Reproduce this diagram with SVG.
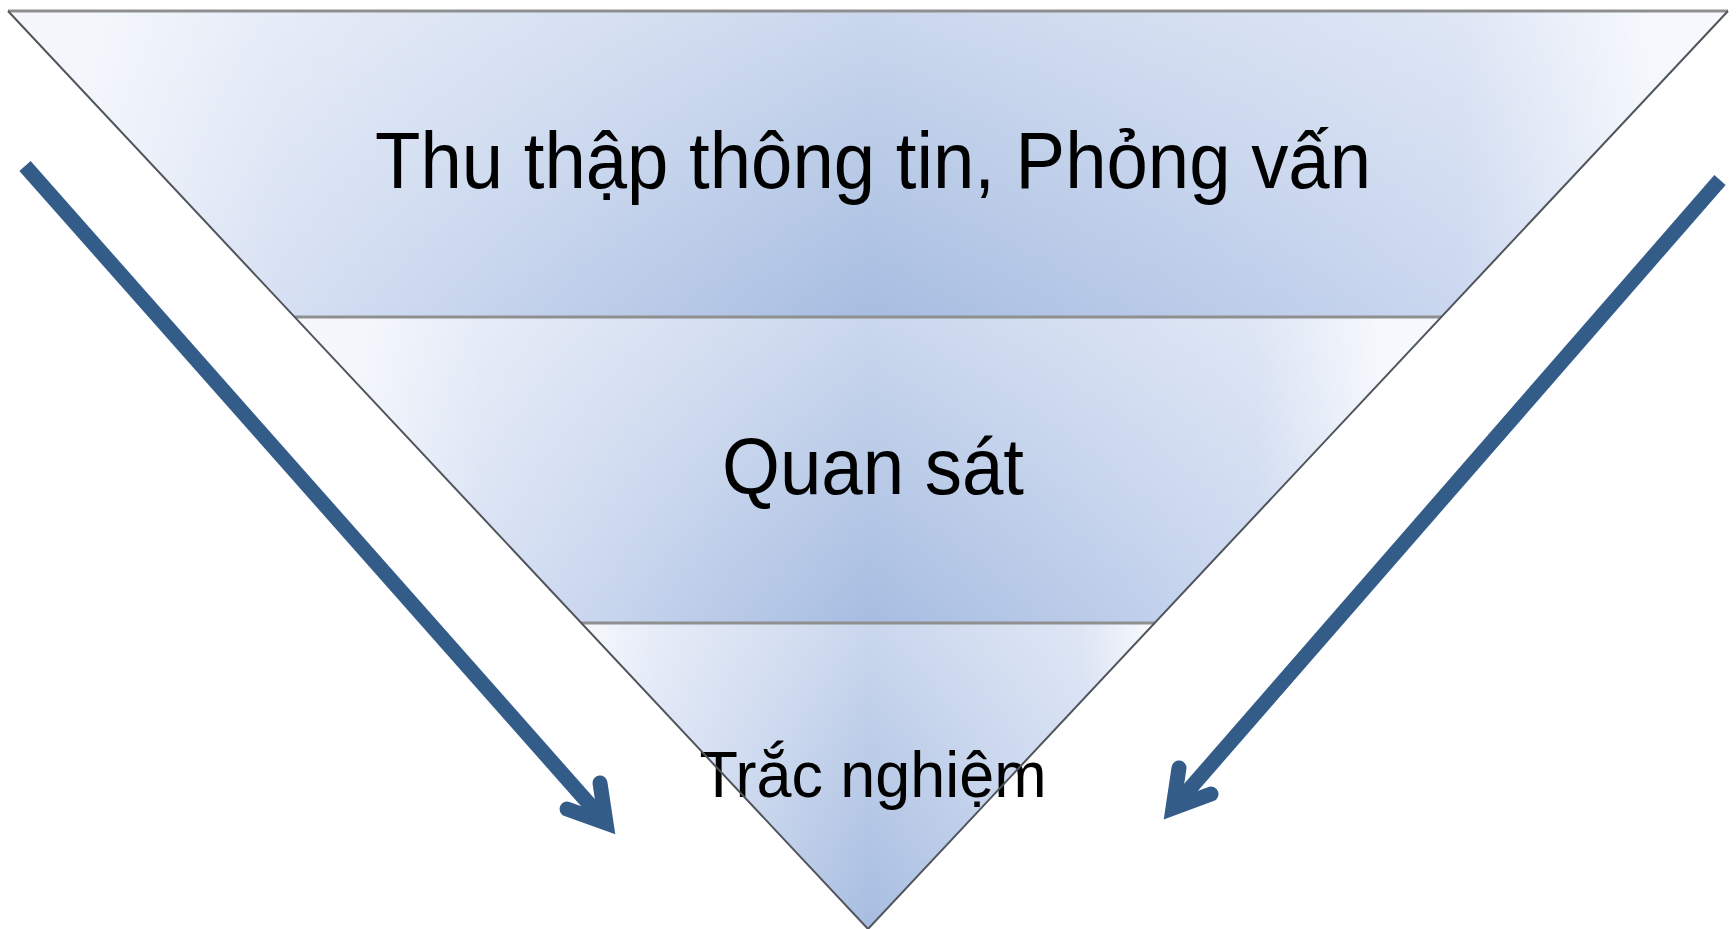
<svg xmlns="http://www.w3.org/2000/svg" xmlns:xlink="http://www.w3.org/1999/xlink" width="1736" height="929" viewBox="0 0 1736 929">
<defs>
<linearGradient id="hg">
<stop offset="0" stop-color="#eef2fa"/>
<stop offset="0.12" stop-color="#d6e0f3"/>
<stop offset="0.5" stop-color="#a7bde1"/>
<stop offset="0.88" stop-color="#cad7ef"/>
<stop offset="1" stop-color="#f0f4fb"/>
</linearGradient>
<linearGradient id="g1" xlink:href="#hg" href="#hg" gradientUnits="userSpaceOnUse" x1="90" y1="0" x2="1650" y2="0"/>
<linearGradient id="g2" xlink:href="#hg" href="#hg" gradientUnits="userSpaceOnUse" x1="360" y1="0" x2="1380" y2="0"/>
<linearGradient id="g3" xlink:href="#hg" href="#hg" gradientUnits="userSpaceOnUse" x1="590" y1="0" x2="1150" y2="0"/>
<linearGradient id="vg" x1="0" y1="0" x2="0" y2="1">
<stop offset="0" stop-color="#ffffff" stop-opacity="0.4"/>
<stop offset="1" stop-color="#ffffff" stop-opacity="0"/>
</linearGradient>
<style>
.lbl{font-family:"Liberation Sans",Arial,sans-serif;fill:#000;text-anchor:middle}
.edge{fill:none;stroke:#50555c;stroke-width:2}
.sep{stroke:#8f8f8f;stroke-width:3}
.arr{fill:none;stroke:#345c89;stroke-width:15}
.head{fill:none;stroke:#345c89;stroke-width:15;stroke-linecap:round;stroke-linejoin:miter;stroke-miterlimit:10}
</style>
</defs>
<rect width="1736" height="929" fill="#ffffff"/>
<g id="band1">
<polygon points="8,11 1728,11 1441,317 295,317" fill="url(#g1)"/>
<polygon points="8,11 1728,11 1441,317 295,317" fill="url(#vg)"/>
<text class="lbl" x="873" y="188" font-size="80" textLength="996" lengthAdjust="spacingAndGlyphs">Thu thập thông tin, Phỏng vấn</text>
</g>
<g id="band2">
<polygon points="295,317 1441,317 1155,623 581,623" fill="url(#g2)"/>
<polygon points="295,317 1441,317 1155,623 581,623" fill="url(#vg)"/>
<text class="lbl" x="873" y="494" font-size="80" textLength="302" lengthAdjust="spacingAndGlyphs">Quan sát</text>
</g>
<g id="band3">
<polygon points="581,623 1155,623 868,929" fill="url(#g3)"/>
<polygon points="581,623 1155,623 868,929" fill="url(#vg)"/>
<text class="lbl" x="873" y="797" font-size="64" textLength="347" lengthAdjust="spacingAndGlyphs">Trắc nghiệm</text>
</g>
<g id="outline">
<line class="sep" x1="8" y1="11" x2="1728" y2="11"/>
<line class="sep" x1="295" y1="317" x2="1441" y2="317"/>
<line class="sep" x1="581" y1="623" x2="1155" y2="623"/>
<polyline class="edge" points="8,11 868,929 1728,11"/>
</g>
<g id="connectors">
<line class="arr" x1="25" y1="166" x2="606" y2="823"/>
<polyline class="head" points="600,783 606,823 567,809"/>
<line class="arr" x1="1720" y1="180" x2="1173" y2="808"/>
<polyline class="head" points="1179,768 1173,808 1211,794"/>
</g>
</svg>
